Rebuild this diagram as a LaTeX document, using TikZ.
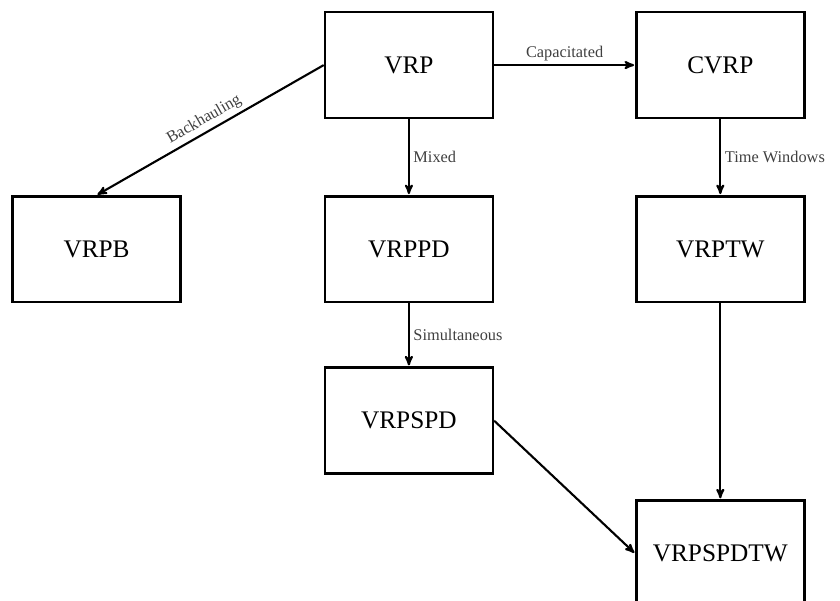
\documentclass[tikz,border=0pt]{standalone}
\usepackage{fontspec}
\setmainfont{Liberation Serif}
\usepackage{tikz}
\usetikzlibrary{arrows,positioning}
\usepackage{xcolor}

\begin{document}
\begin{tikzpicture}[->,>=stealth',shorten >=1pt,auto,node distance=2.53cm,
      line width=2pt,main node/.style={rectangle,draw,line width=2.3pt,
          font=\fontsize{24}{28}\selectfont,minimum width=5.6cm,minimum height=3.53cm},
      edge label/.style={font=\fontsize{15.5}{18}\selectfont,text=black!75}]

    \useasboundingbox (-13.63,2.17) rectangle (14.37,-17.85);

    \node[main node] (vrp) at (0,0) {VRP};
    \node[main node] (cvrp) [right=4.7cm of vrp] {CVRP};
    \node[main node] (vrppd) [below=of vrp] {VRPPD};
    \node[main node] (vrpb) [left=4.73cm of vrppd] {VRPB};
    \node[main node] (vrptw) [below=of cvrp] {VRPTW};
    \node[main node] (vrpspd) [below=2.1cm of vrppd] {VRPSPD};
    \node[main node] (vrpspdtw) [below=6.53cm of vrptw] {VRPSPDTW};

    \path[every node/.style={edge label}]
    (vrp) edge node {Capacitated} (cvrp)
    edge node {Mixed} (vrppd)
    (vrp.west) edge node[sloped,above] {Backhauling} (vrpb.north)
    (cvrp) edge node {Time Windows} (vrptw)
    (vrppd) edge node {Simultaneous} (vrpspd)
    (vrpspd.east) edge (vrpspdtw.west)
    (vrptw) edge (vrpspdtw);

  \end{tikzpicture}
\end{document}
